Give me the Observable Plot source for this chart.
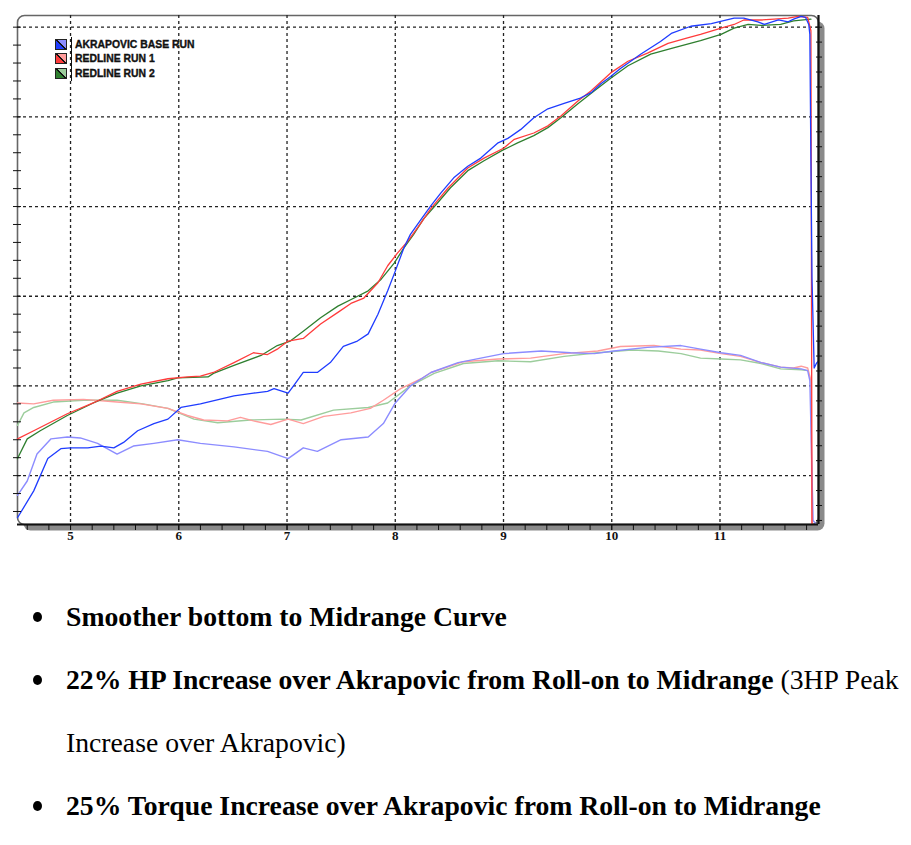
<!DOCTYPE html>
<html>
<head>
<meta charset="utf-8">
<script src="https://cdn.jsdelivr.net/npm/d3@7"></script>
<script src="https://cdn.jsdelivr.net/npm/@observablehq/plot@0.6"></script>
<style>
  html, body { margin: 0; padding: 0; background: #fff; }
  #wrap { position: relative; width: 911px; }
  #chart svg { display: block; }
  #legend { position: absolute; left: 55px; top: 37px; font-family: "Liberation Sans", Arial, sans-serif; font-weight: bold; font-size: 10.4px; color: #111; -webkit-text-stroke: 0.35px #111; }
  #legend .row { display: flex; align-items: center; height: 14.5px; }
  #legend .sw { width: 10px; height: 9px; border: 1px solid #222; box-sizing: content-box; margin-right: 4px; -webkit-text-stroke: 0; }
  #legend .bar { width: 1px; align-self: stretch; background: #111; margin-right: 3px; }
  #notes { font-family: "Liberation Serif", "Times New Roman", serif; font-size: 27.7px; color: #000; margin: 0; padding: 0; }
  #notes ul { margin: 0; padding: 0; list-style: none; }
  #notes li { position: relative; padding-left: 66px; line-height: 63px; white-space: nowrap; }
  #notes li::before { content: ""; position: absolute; left: 33px; top: 27px; width: 9px; height: 10px; border-radius: 50%; background: #000; }
  #notes b { font-weight: bold; }
</style>
</head>
<body>
<div id="wrap">
  <div id="chart"></div>
  <div id="legend"></div>
  <div id="notes"></div>
</div>
<script>
// x = engine speed (x1000 rpm), y = value in chart grid units
const xLabels = [5, 6, 7, 8, 9, 10, 11];
const yGrid = [10, 20, 30, 40, 50, 60];
const xMinorTicks = d3.range(4.6, 11.95, 0.2);
const yLeftTicks = d3.range(6, 62, 2);
const yRightTicks = d3.range(0, 34).map(k => 5 + k * 10 / 6);

const seriesNames = ["AKRAPOVIC BASE RUN", "REDLINE RUN 1", "REDLINE RUN 2"];
const hpColors = ["#1f3cff", "#ff3b3b", "#2f7f2f"];
const tqColors = ["#8c8cff", "#ff9c9c", "#9ccd9c"];

const akraHp = [[4.51,5.3],[4.66,8.3],[4.79,11.9],[4.91,13.0],[5.00,13.1],[5.16,13.1],[5.28,13.3],[5.40,13.1],[5.49,13.7],[5.62,15.0],[5.77,15.8],[5.90,16.3],[6.02,17.6],[6.20,18.0],[6.51,18.9],[6.69,19.2],[6.82,19.4],[6.88,19.7],[7.01,19.2],[7.06,20.0],[7.15,21.5],[7.28,21.5],[7.40,22.6],[7.52,24.4],[7.65,25.0],[7.75,25.8],[7.84,28.0],[7.93,30.6],[8.00,32.8],[8.08,35.4],[8.14,36.9],[8.24,38.6],[8.33,40.1],[8.42,41.5],[8.54,43.2],[8.67,44.5],[8.79,45.4],[8.95,47.1],[9.04,47.6],[9.16,48.6],[9.28,49.9],[9.41,50.9],[9.56,51.5],[9.71,52.1],[9.81,52.7],[9.90,53.7],[9.99,54.5],[10.08,55.4],[10.27,57.0],[10.45,58.4],[10.55,59.3],[10.73,60.1],[10.92,60.4],[11.13,61.0],[11.22,61.0],[11.35,60.6],[11.41,60.3],[11.54,60.8],[11.63,60.6],[11.68,60.9],[11.75,61.2],[11.79,61.1],[11.82,60.3],[11.83,59.2],[11.84,45.0],[11.85,32.0],[11.87,22.0],[11.89,22.5],[11.91,22.8]];
const run1Hp = [[4.51,14.1],[4.66,15.0],[4.97,16.9],[5.21,18.1],[5.43,19.4],[5.65,20.2],[5.90,20.8],[6.08,21.0],[6.20,21.1],[6.32,21.5],[6.51,22.6],[6.69,23.7],[6.82,23.5],[6.91,24.1],[7.01,25.0],[7.15,25.3],[7.31,26.9],[7.47,28.2],[7.59,29.2],[7.71,29.8],[7.84,31.5],[7.93,33.4],[8.02,34.8],[8.12,36.2],[8.24,38.2],[8.33,39.8],[8.49,42.1],[8.67,44.3],[8.82,45.4],[9.00,46.5],[9.10,47.5],[9.28,48.2],[9.41,49.0],[9.53,50.1],[9.69,51.8],[9.81,52.9],[9.99,54.9],[10.15,56.2],[10.33,57.1],[10.52,58.2],[10.70,58.8],[10.82,59.2],[11.01,59.9],[11.13,60.3],[11.22,60.8],[11.38,60.8],[11.50,60.9],[11.63,61.0],[11.72,61.2],[11.81,61.1],[11.84,59.6],[11.85,4.6]];
const run2Hp = [[4.51,11.9],[4.60,14.1],[4.72,15.0],[4.97,16.7],[5.21,18.1],[5.43,19.2],[5.65,20.0],[5.90,20.6],[5.99,20.9],[6.27,21.0],[6.32,21.4],[6.51,22.3],[6.76,23.4],[6.91,24.5],[7.03,25.0],[7.15,26.1],[7.31,27.6],[7.47,28.9],[7.62,29.8],[7.75,30.6],[7.87,31.9],[7.99,33.7],[8.08,35.4],[8.17,36.9],[8.26,38.6],[8.39,40.4],[8.51,42.1],[8.67,44.0],[8.82,45.1],[8.98,46.2],[9.13,47.1],[9.28,47.9],[9.41,48.8],[9.53,49.9],[9.69,51.5],[9.84,52.9],[9.99,54.3],[10.15,55.7],[10.36,57.0],[10.57,57.7],[10.82,58.5],[11.01,59.2],[11.13,59.9],[11.26,60.3],[11.38,60.2],[11.56,60.3],[11.68,60.7],[11.84,60.9]];
const akraTq = [[4.51,7.8],[4.60,9.4],[4.69,12.4],[4.82,14.1],[4.97,14.3],[5.09,14.2],[5.25,13.6],[5.43,12.4],[5.58,13.3],[5.77,13.6],[5.99,14.0],[6.20,13.6],[6.51,13.2],[6.82,12.7],[7.01,11.9],[7.15,13.1],[7.28,12.7],[7.50,14.0],[7.75,14.3],[7.89,15.8],[8.00,18.1],[8.14,20.0],[8.33,21.5],[8.58,22.6],[8.79,23.1],[9.00,23.6],[9.35,23.9],[9.62,23.7],[9.84,23.6],[10.02,23.9],[10.33,24.3],[10.64,24.5],[10.82,24.1],[11.01,23.7],[11.19,23.4],[11.38,22.6],[11.56,22.1],[11.75,21.9],[11.81,21.7],[11.83,20.6],[11.86,5.0],[11.88,4.7]];
const run1Tq = [[4.51,18.1],[4.66,18.0],[4.84,18.4],[5.12,18.5],[5.43,18.2],[5.65,18.0],[5.90,17.5],[6.08,16.7],[6.23,16.2],[6.45,16.1],[6.57,16.5],[6.69,16.1],[6.85,15.7],[7.01,16.3],[7.15,15.8],[7.34,16.6],[7.59,17.0],[7.77,17.5],[7.89,18.4],[8.05,19.7],[8.24,20.8],[8.33,21.5],[8.63,22.7],[8.95,23.0],[9.25,23.1],[9.56,23.6],[9.87,23.9],[10.08,24.4],[10.39,24.5],[10.64,24.1],[10.82,24.0],[11.01,23.6],[11.19,23.3],[11.38,22.6],[11.56,22.1],[11.68,22.0],[11.75,22.2],[11.81,22.0],[11.84,20.6],[11.85,4.6]];
const run2Tq = [[4.51,15.6],[4.57,17.0],[4.66,17.6],[4.84,18.2],[5.12,18.4],[5.43,18.4],[5.67,18.0],[5.90,17.5],[6.14,16.3],[6.36,15.9],[6.66,16.2],[6.97,16.3],[7.13,16.2],[7.43,17.3],[7.75,17.6],[7.93,18.1],[8.14,20.0],[8.36,21.4],[8.63,22.5],[8.95,22.8],[9.25,22.7],[9.56,23.3],[9.87,23.7],[10.18,24.0],[10.43,23.9],[10.64,23.6],[10.82,23.1],[11.01,23.0],[11.19,22.9],[11.38,22.5],[11.56,21.9],[11.75,21.8],[11.81,21.7]];

const xDomain = [4.51, 11.91];
const yDomain = [4.55, 61.3];

const line = (data, color, w) => Plot.line(data, {x: d => d[0], y: d => d[1], stroke: color, strokeWidth: w, strokeLinejoin: "round"});

const chart = Plot.plot({
  width: 840,
  height: 545,
  marginTop: 15,
  marginLeft: 17,
  marginRight: 22,
  marginBottom: 21,
  style: {background: "transparent", overflow: "visible"},
  x: {domain: xDomain},
  y: {domain: yDomain},
  marks: [
    Plot.frame({fill: "#8a8a8a", dx: 6, dy: 6, rx: 7}),
    Plot.frame({fill: "#fff", stroke: "#666", strokeWidth: 1.6, rx: 7}),
    Plot.ruleY(yGrid, {stroke: "#222", strokeWidth: 1.3, strokeDasharray: "3,3"}),
    Plot.ruleX(xLabels, {stroke: "#222", strokeWidth: 1.3, strokeDasharray: "3,3"}),
    line(run2Tq, tqColors[2], 1.4),
    line(run1Tq, tqColors[1], 1.4),
    line(akraTq, tqColors[0], 1.4),
    line(run2Hp, hpColors[2], 1.3),
    line(run1Hp, hpColors[1], 1.3),
    line(akraHp, hpColors[0], 1.3),
    Plot.ruleY([yDomain[0]], {stroke: "#111", strokeWidth: 2.2}),
    Plot.ruleX([xDomain[1]], {stroke: "#111", strokeWidth: 2.2}),
    Plot.axisX(xMinorTicks, {anchor: "bottom", tickSize: 6, tickFormat: () => "", label: null, stroke: "#111"}),
    Plot.axisX(xLabels, {anchor: "bottom", tickSize: 6, tickPadding: 0, label: null, stroke: "#111",
      fontFamily: "Liberation Serif, serif", fontWeight: "bold", fontSize: 13, fill: "#111"}),
    Plot.axisY(yLeftTicks, {anchor: "left", tickSize: 8, dx: 4, tickFormat: () => "", label: null, stroke: "#111"}),
    Plot.axisY(yRightTicks, {anchor: "right", tickSize: 6, dx: -3, tickFormat: () => "", label: null, stroke: "#111"})
  ]
});
document.getElementById("chart").append(chart);

// legend
const legend = document.getElementById("legend");
seriesNames.forEach((name, i) => {
  const row = document.createElement("div");
  row.className = "row";
  const sw = document.createElement("div");
  sw.className = "sw";
  sw.style.background = `linear-gradient(45deg, ${hpColors[i]} 44%, #111 44%, #111 56%, ${tqColors[i]} 56%)`;
  const bar = document.createElement("div");
  bar.className = "bar";
  const t = document.createElement("span");
  t.textContent = name;
  row.append(sw, bar, t);
  legend.append(row);
});

// notes
const notes = [
  ["Smoother bottom to Midrange Curve", ""],
  ["22% HP Increase over Akrapovic from Roll-on to Midrange", " (3HP Peak<br>Increase over Akrapovic)"],
  ["25% Torque Increase over Akrapovic from Roll-on to Midrange", ""]
];
const ul = document.createElement("ul");
ul.style.paddingTop = "40px";
notes.forEach(([b, rest]) => {
  const li = document.createElement("li");
  li.innerHTML = `<b>${b}</b>${rest}`;
  ul.append(li);
});
document.getElementById("notes").append(ul);
</script>
</body>
</html>
